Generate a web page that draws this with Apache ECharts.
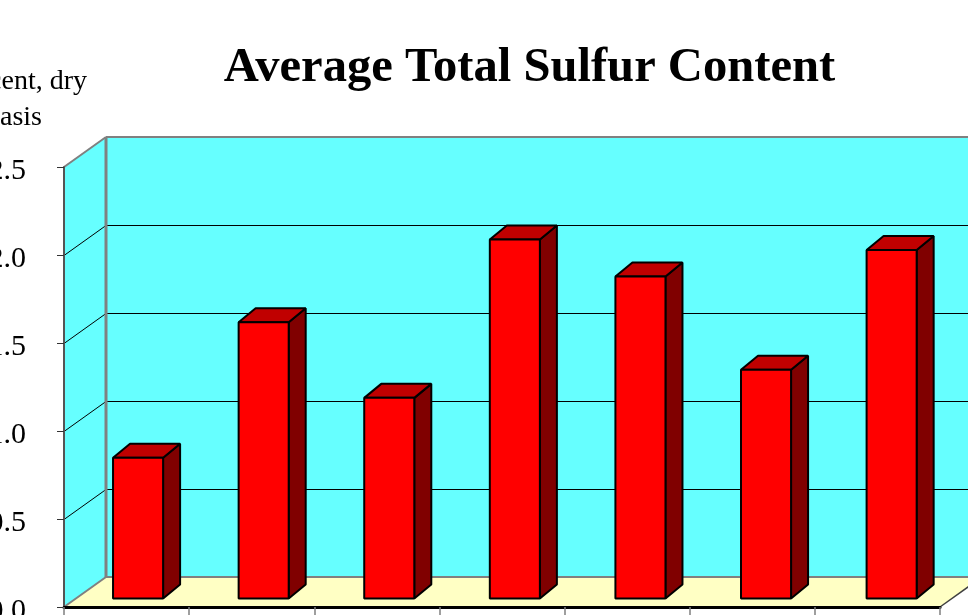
<!DOCTYPE html>
<html><head><meta charset="utf-8">
<style>html,body{margin:0;padding:0;background:#fff;overflow:hidden}#c{width:968px;height:615px}</style>
<script src="https://cdn.jsdelivr.net/npm/echarts@6/dist/echarts.min.js"></script>
</head><body><div id="c"></div>
<script>
const chartTitle = 'Average Total Sulfur Content';
const axisTitleLines = ['Percent, dry', 'basis'];
const categories = ['A', 'B', 'C', 'D', 'E', 'F', 'G'];
const sulfurValues = [0.80, 1.57, 1.14, 2.04, 1.83, 1.30, 1.98];
const gridValues = [0.5, 1.0, 1.5, 2.0];
const FONT = '"Liberation Serif", "Times New Roman", serif';
const DEPTH = [42, -30];
const BAR_SHIFT = [11.5, -8.5];
const BAR_PITCH_EXTRA = 0.45;
const BAR_DEPTH = [17, -14];
const BAR_FRACTION = 0.4;

const chart = echarts.init(document.getElementById('c'), null, {renderer: 'canvas'});

function poly(points, fill, stroke, lineWidth) {
  return {type: 'polygon', shape: {points},
    style: {fill, stroke: stroke || 'none', lineWidth: lineWidth || 0, lineJoin: 'bevel'}};
}
function line(a, b, stroke, lineWidth) {
  return {type: 'line', shape: {x1: a[0], y1: a[1], x2: b[0], y2: b[1]},
    style: {stroke, lineWidth, fill: 'none'}};
}
function add(p, d) { return [p[0] + d[0], p[1] + d[1]]; }

function renderWalls(params, api) {
  const band = api.size([1, 0])[0];
  const n = categories.length;
  const x0 = api.coord([0, 0])[0] - band / 2;
  const x1 = api.coord([n - 1, 0])[0] + band / 2;
  const y0 = api.coord([0, 0])[1];
  const yTop = api.coord([0, 2.5])[1];
  const fl = [x0, y0], fr = [x1, y0], tl = [x0, yTop];
  const bl = add(fl, DEPTH), br = add(fr, DEPTH), btl = add(tl, DEPTH), btr = [br[0], btl[1]];
  const children = [
    poly([bl, br, btr, btl], '#66FFFF'),
    poly([fl, bl, btl, tl], '#66FFFF'),
    poly([fl, fr, br, bl], '#FFFFC4')
  ];
  gridValues.forEach(v => {
    const y = Math.round(api.coord([0, v])[1]) + 0.5;
    const a = [x0, y], b = add(a, DEPTH), c = [br[0], b[1]];
    children.push(line(a, b, '#000', 1), line(b, c, '#000', 1));
  });
  children.push(
    line(bl, btl, '#808080', 3),
    line(btl, btr, '#808080', 2),
    line(tl, btl, '#808080', 2),
    line(bl, br, '#808080', 2),
    line(fl, bl, '#808080', 2),
    line(fr, br, '#404040', 1.5)
  );
  return {type: 'group', children};
}

function renderBar(params, api) {
  const i = api.value(0);
  const c = api.coord([i, 0]);
  const t = api.coord([i, api.value(1)]);
  const w = api.size([1, 0])[0] * BAR_FRACTION;
  const xl = c[0] - w / 2 + BAR_SHIFT[0] + i * BAR_PITCH_EXTRA, xr = xl + w;
  const yb = c[1] + BAR_SHIFT[1], yt = t[1] + BAR_SHIFT[1];
  const d = BAR_DEPTH;
  const s = '#000', lw = 2;
  return {type: 'group', children: [
    poly([[xr, yb], add([xr, yb], d), add([xr, yt], d), [xr, yt]], '#800000', s, lw),
    poly([[xl, yt], [xr, yt], add([xr, yt], d), add([xl, yt], d)], '#C00000', s, lw),
    poly([[xl, yt], [xr, yt], [xr, yb], [xl, yb]], '#FF0000', s, lw)
  ]};
}

chart.setOption({
  animation: false,
  backgroundColor: '#fff',
  title: {
    text: chartTitle, left: 524.5, top: 39, textAlign: 'center',
    textStyle: {fontFamily: FONT, fontSize: 48.6, fontWeight: 'bold', color: '#000'}
  },
  graphic: [
    {type: 'text', right: 968 - 87, top: 68, z: 10,
      style: {text: axisTitleLines[0], font: '28px ' + FONT, fill: '#000'}},
    {type: 'text', right: 968 - 42, top: 104, z: 10,
      style: {text: axisTitleLines[1], font: '28px ' + FONT, fill: '#000'}}
  ],
  grid: {left: 64, right: 28, top: 167, bottom: 8, outerBoundsMode: 'none'},
  xAxis: {
    type: 'category', data: categories, z: 5,
    axisLine: {show: true, lineStyle: {color: '#000', width: 3}},
    axisTick: {show: true, length: 9, alignWithLabel: false, lineStyle: {color: '#808080', width: 1.5}},
    axisLabel: {show: false}, splitLine: {show: false}
  },
  yAxis: {
    type: 'value', min: 0, max: 2.5, interval: 0.5, z: 5,
    axisLine: {show: true, lineStyle: {color: '#555', width: 2}},
    axisTick: {show: true, length: 7, lineStyle: {color: '#333', width: 1}},
    axisLabel: {margin: 38, color: '#000', fontFamily: FONT, fontSize: 30,
      verticalAlign: 'top', lineHeight: 8, formatter: v => v.toFixed(1)},
    splitLine: {show: false}
  },
  tooltip: {show: false},
  series: [
    {type: 'custom', name: 'walls', z: 1, silent: true, clip: false,
      renderItem: renderWalls, data: [[0, 0]], encode: {x: 0, y: 1}},
    {type: 'custom', name: 'Average total sulfur', z: 3, clip: false,
      renderItem: renderBar, encode: {x: 0, y: 1},
      data: categories.map((c, i) => [i, sulfurValues[i]])}
  ]
});
</script></body></html>
